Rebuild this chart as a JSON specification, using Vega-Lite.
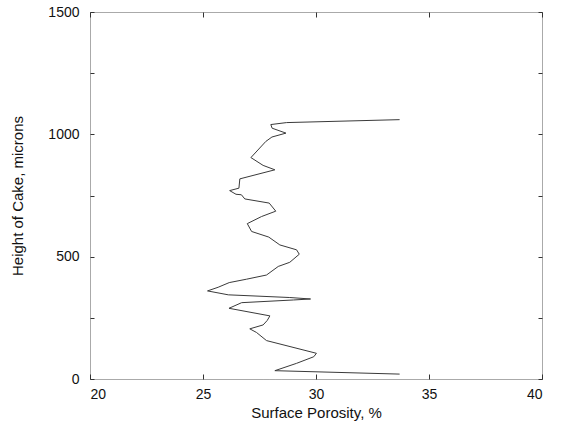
{
  "$schema": "https://vega.github.io/schema/vega-lite/v6.json",
  "width": 452,
  "height": 367,
  "autosize": {"type": "none"},
  "padding": {"left": 90, "top": 12, "right": 19, "bottom": 46},
  "background": "white",
  "config": {
    "view": {"stroke": "#555", "strokeDash": [1, 1], "strokeWidth": 1},
    "font": "Liberation Sans",
    "axis": {
      "domain": false,
      "grid": false,
      "tickColor": "#333",
      "labelColor": "#111",
      "titleColor": "#111",
      "labelFontSize": 14,
      "titleFontSize": 15,
      "titleFontWeight": "normal",
      "format": "d"
    }
  },
  "data": {
    "values": [
      {"i": 1, "p": 33.7, "h": 1060},
      {"i": 2, "p": 28.7, "h": 1048},
      {"i": 3, "p": 28.0, "h": 1040},
      {"i": 4, "p": 28.06, "h": 1025},
      {"i": 5, "p": 28.67, "h": 1005},
      {"i": 6, "p": 28.05, "h": 989},
      {"i": 7, "p": 27.78, "h": 971},
      {"i": 8, "p": 27.12, "h": 905},
      {"i": 9, "p": 27.66, "h": 873},
      {"i": 10, "p": 28.18, "h": 855},
      {"i": 11, "p": 26.63, "h": 818},
      {"i": 12, "p": 26.59, "h": 780},
      {"i": 13, "p": 26.18, "h": 770},
      {"i": 14, "p": 26.46, "h": 755},
      {"i": 15, "p": 26.7, "h": 753},
      {"i": 16, "p": 26.85, "h": 736},
      {"i": 17, "p": 27.93, "h": 719},
      {"i": 18, "p": 28.22, "h": 686},
      {"i": 19, "p": 27.59, "h": 664},
      {"i": 20, "p": 26.96, "h": 635},
      {"i": 21, "p": 27.15, "h": 603},
      {"i": 22, "p": 27.91, "h": 580},
      {"i": 23, "p": 28.4, "h": 548},
      {"i": 24, "p": 29.14, "h": 528},
      {"i": 25, "p": 29.26, "h": 510},
      {"i": 26, "p": 28.84, "h": 477},
      {"i": 27, "p": 28.33, "h": 460},
      {"i": 28, "p": 27.81, "h": 425},
      {"i": 29, "p": 26.93, "h": 408},
      {"i": 30, "p": 26.16, "h": 394},
      {"i": 31, "p": 25.67, "h": 375},
      {"i": 32, "p": 25.2, "h": 360},
      {"i": 33, "p": 26.12, "h": 344},
      {"i": 34, "p": 28.84, "h": 333},
      {"i": 35, "p": 29.76, "h": 327},
      {"i": 36, "p": 29.0, "h": 323},
      {"i": 37, "p": 26.71, "h": 312},
      {"i": 38, "p": 26.15, "h": 289},
      {"i": 39, "p": 27.96, "h": 258},
      {"i": 40, "p": 27.84, "h": 239},
      {"i": 41, "p": 27.66, "h": 221},
      {"i": 42, "p": 27.07, "h": 205},
      {"i": 43, "p": 27.37, "h": 190},
      {"i": 44, "p": 27.81, "h": 157},
      {"i": 45, "p": 30.02, "h": 105},
      {"i": 46, "p": 29.9, "h": 91},
      {"i": 47, "p": 29.14, "h": 64},
      {"i": 48, "p": 28.18, "h": 34},
      {"i": 49, "p": 33.7, "h": 20}
    ]
  },
  "layer": [
    {
      "mark": {"type": "line", "color": "#3a3a3a", "strokeWidth": 1},
      "encoding": {
        "x": {
          "field": "p", "type": "quantitative",
          "scale": {"domain": [20, 40], "nice": false, "zero": false},
          "axis": {"values": [20, 25, 30, 35, 40], "tickSize": -5, "labelPadding": 13, "title": "Surface Porosity, %", "titlePadding": 4}
        },
        "y": {
          "field": "h", "type": "quantitative",
          "scale": {"domain": [0, 1500], "nice": false},
          "axis": {"values": [0, 250, 500, 750, 1000, 1250, 1500], "labelExpr": "datum.value % 500 === 0 ? datum.label : ''", "tickSize": -4, "labelPadding": 15, "title": "Height of Cake, microns", "titlePadding": 22}
        },
        "order": {"field": "i", "type": "quantitative"}
      }
    },
    {
      "mark": {"type": "point", "opacity": 0},
      "encoding": {
        "x": {
          "field": "p", "type": "quantitative",
          "axis": {"orient": "top", "values": [20, 25, 30, 35, 40], "tickSize": -5, "labels": false, "title": null}
        },
        "y": {
          "field": "h", "type": "quantitative",
          "axis": {"orient": "right", "values": [0, 250, 500, 750, 1000, 1250, 1500], "tickSize": -4, "labels": false, "title": null}
        }
      }
    }
  ],
  "resolve": {"axis": {"x": "independent", "y": "independent"}}
}
